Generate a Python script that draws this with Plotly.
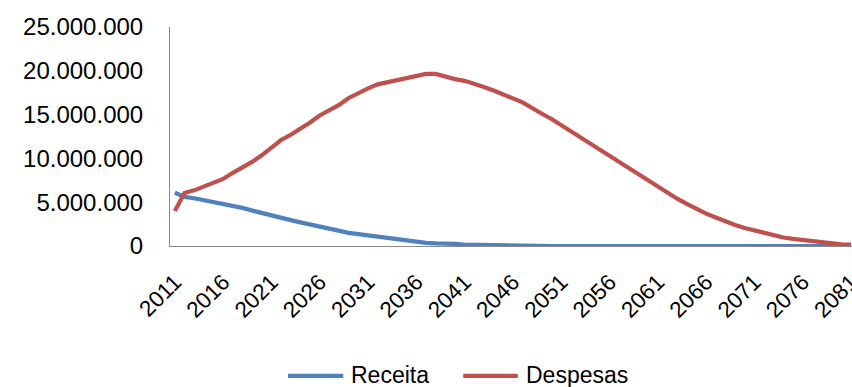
import plotly.graph_objects as go

# Projection horizon
years = list(range(2011, 2082))

# Revenue (Receita) per year
receita = [
    6100000, 5600000, 5450000, 5250000, 5000000, 4800000, 4550000, 4350000, 4050000, 3750000,
    3450000, 3150000, 2950000, 2700000, 2450000, 2150000, 1950000, 1700000, 1500000, 1350000,
    1200000, 1100000, 950000, 750000, 600000, 450000, 350000, 300000, 300000, 250000,
    150000, 120000, 120000, 100000, 50000,
] + [0] * 36

# Expenses (Despesas) per year
despesas = [
    4000000, 6050000, 6350000, 6750000, 7200000, 7650000, 8350000, 8950000, 9600000, 10350000,
    11200000, 12100000, 12700000, 13350000, 14100000, 14900000, 15500000, 16100000, 16900000, 17500000,
    18000000, 18450000, 18700000, 19000000, 19250000, 19400000, 19650000, 19650000, 19300000, 19050000,
    18850000, 18550000, 18150000, 17750000, 17350000, 16850000, 16400000, 15700000, 15100000, 14500000,
    13800000, 13100000, 12400000, 11700000, 11000000, 10250000, 9500000, 8800000, 8150000, 7450000,
    6750000, 6100000, 5400000, 4800000, 4200000, 3700000, 3250000, 2800000, 2400000, 2050000,
    1750000, 1450000, 1200000, 970000, 820000, 680000, 580000, 420000, 280000, 200000,
    160000,
]

series_names = ["Receita", "Despesas"]
series_colors = ["#4F81BD", "#C0504D"]

x_ticks = list(range(2011, 2082, 5))
y_ticks = [0, 5000000, 10000000, 15000000, 20000000, 25000000]

FONT = "Liberation Sans, Arial, sans-serif"

fig = go.Figure()
for name, values, color in zip(series_names, [receita, despesas], series_colors):
    fig.add_trace(go.Scatter(
        x=years, y=values, name=name, mode="lines",
        line=dict(color=color, width=4.2),
        showlegend=False,
    ))

# Legend drawn below the axis: a short line swatch followed by the series name
legend_items = [
    (0.173, 0.254, 0.262),
    (0.430, 0.510, 0.519),
]
legend_y = -0.593
for (x0, x1, xt), name, color in zip(legend_items, series_names, series_colors):
    fig.add_shape(type="line", xref="paper", yref="paper",
                  x0=x0, x1=x1, y0=legend_y, y1=legend_y,
                  line=dict(color=color, width=4.2))
    fig.add_annotation(xref="paper", yref="paper", x=xt, y=legend_y + 0.004,
                       text=name, showarrow=False, xanchor="left", yanchor="middle",
                       font=dict(family=FONT, size=23, color="#000000"))

fig.update_layout(
    width=852, height=387,
    margin=dict(l=170, r=0, t=27, b=141),
    paper_bgcolor="white", plot_bgcolor="white",
    separators=",.",
    font=dict(family=FONT, size=22, color="#000000"),
    showlegend=False,
)
fig.update_xaxes(
    range=[2010.5, 2081.1],
    tickmode="array", tickvals=x_ticks, ticktext=[str(v) for v in x_ticks],
    tickangle=-45, tickfont=dict(family=FONT, size=22.5, color="#000000"),
    ticks="", ticklabelstandoff=13, ticklabeloverflow="allow",
    showgrid=False, zeroline=False,
    showline=True, linecolor="#898989", linewidth=1,
    automargin=False,
)
fig.update_yaxes(
    range=[0, 25000000],
    tickmode="array", tickvals=y_ticks, tickformat=",d",
    tickfont=dict(family=FONT, size=24, color="#000000"),
    ticks="", ticklabelstandoff=21,
    showgrid=False, zeroline=False,
    showline=True, linecolor="#898989", linewidth=1,
    automargin=False,
)

fig.write_html("out.html")
